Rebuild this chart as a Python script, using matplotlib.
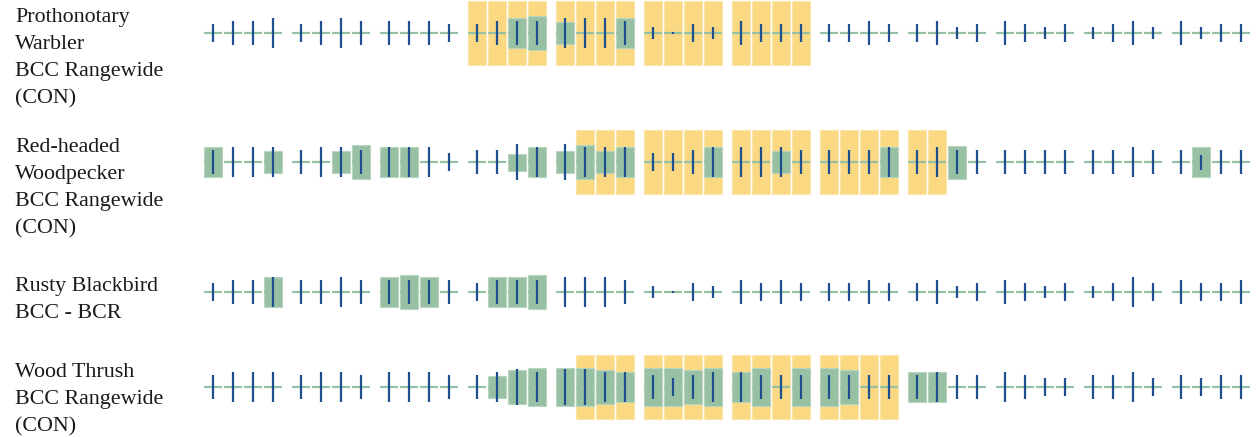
import matplotlib
matplotlib.use('Agg')

import matplotlib.pyplot as plt
from matplotlib.patches import Rectangle

# species labels (one row each)
species = [
    "Prothonotary\nWarbler\nBCC Rangewide\n(CON)",
    "Red-headed\nWoodpecker\nBCC Rangewide\n(CON)",
    "Rusty Blackbird\nBCC - BCR",
    "Wood Thrush\nBCC Rangewide\n(CON)",
]

# probability of presence, 48 weeks (4 per month, Jan..Dec); 0 = no bar
presence = [
    [0, 0, 0, 0,  0, 0, 0, 0,  0, 0, 0, 0,  0, 0, 30, 34,  22, 0, 0, 30,  0, 0, 0, 0,
     0, 0, 0, 0,  0, 0, 0, 0,  0, 0, 0, 0,  0, 0, 0, 0,  0, 0, 0, 0,  0, 0, 0, 0],
    [30, 0, 0, 22,  0, 0, 22, 34,  30, 30, 0, 0,  0, 0, 17, 30,  22, 34, 22, 30,  0, 0, 0, 30,
     0, 0, 22, 0,  0, 0, 0, 30,  0, 0, 33, 0,  0, 0, 0, 0,  0, 0, 0, 0,  0, 30, 0, 0],
    [0, 0, 0, 30,  0, 0, 0, 0,  30, 34, 30, 0,  0, 30, 30, 34,  0, 0, 0, 0,  0, 0, 0, 0,
     0, 0, 0, 0,  0, 0, 0, 0,  0, 0, 0, 0,  0, 0, 0, 0,  0, 0, 0, 0,  0, 0, 0, 0],
    [0, 0, 0, 0,  0, 0, 0, 0,  0, 0, 0, 0,  0, 22, 34, 38,  38, 38, 34, 30,  38, 38, 34, 38,
     30, 38, 0, 38,  38, 34, 0, 0,  30, 30, 0, 0,  0, 0, 0, 0,  0, 0, 0, 0,  0, 0, 0, 0],
]

# survey effort per week
effort = [
    [18, 24, 24, 30,  18, 24, 30, 24,  24, 24, 24, 18,  18, 24, 24, 24,  30, 30, 30, 24,  12, 2, 18, 12,
     24, 18, 18, 18,  18, 18, 24, 18,  18, 24, 12, 18,  24, 18, 12, 18,  12, 18, 24, 12,  24, 12, 18, 18],
    [24, 30, 30, 30,  24, 30, 30, 24,  30, 30, 30, 18,  24, 24, 36, 30,  36, 30, 30, 30,  18, 18, 24, 30,
     30, 30, 30, 24,  24, 24, 24, 30,  24, 30, 24, 24,  24, 24, 24, 24,  24, 24, 30, 24,  24, 15, 24, 24],
    [18, 24, 24, 30,  24, 24, 30, 24,  24, 24, 24, 24,  18, 24, 24, 24,  30, 30, 30, 24,  12, 2, 18, 12,
     24, 18, 24, 18,  18, 18, 24, 18,  18, 24, 12, 18,  24, 18, 12, 18,  12, 18, 30, 18,  24, 18, 18, 24],
    [24, 30, 30, 30,  24, 30, 30, 24,  30, 30, 30, 24,  24, 30, 36, 30,  36, 36, 30, 30,  24, 18, 24, 30,
     30, 24, 24, 24,  24, 24, 24, 24,  24, 30, 24, 24,  30, 24, 18, 18,  24, 24, 30, 18,  24, 18, 24, 24],
]

# breeding season as (first week, last week) index, None = no breeding season
breeding = [(12, 27), (17, 33), None, (17, 31)]

YELLOW = '#fad982'
GREEN = '#97c1a2'
BLUE = '#1f4f8f'

# layout (pixels)
X0, CELL_W, STEP, MONTH_W = 204, 18, 20, 88
ROW_Y = [33, 162, 292, 387]
BOX_H = 64
LABEL_Y = [8, 138, 277, 363]

fig = plt.figure(figsize=(12.6, 4.37), dpi=100)
ax = fig.add_axes([0, 0, 1, 1])
ax.set_xlim(0, 1260)
ax.set_ylim(437, 0)
ax.axis('off')

for r, label in enumerate(species):
    yc = ROW_Y[r]
    for i in range(48):
        m, w = divmod(i, 4)
        x = X0 + m * MONTH_W + w * STEP
        if breeding[r] and breeding[r][0] <= i <= breeding[r][1]:
            ax.add_patch(Rectangle((x, yc - BOX_H / 2), CELL_W, BOX_H,
                                   facecolor=YELLOW, edgecolor='#fce6ab', lw=0.8, zorder=1))
        p = presence[r][i]
        if p:
            ax.add_patch(Rectangle((x, yc - p / 2), CELL_W, p,
                                   facecolor=GREEN, edgecolor='#b9d5c1', lw=0.8, zorder=2))
        ax.plot([x, x + CELL_W], [yc, yc], color=GREEN, lw=1.6, solid_capstyle='butt', zorder=3)
        e = effort[r][i]
        ax.plot([x + CELL_W / 2, x + CELL_W / 2], [yc - e / 2, yc + e / 2],
                color=BLUE, lw=1.6, solid_capstyle='butt', zorder=4)
    ax.text(15, LABEL_Y[r], label, fontsize=15.8, family='Liberation Serif',
            color='#1a1a1a', va='top', ha='left', linespacing=1.57)

fig.savefig('out.png', dpi=100)
